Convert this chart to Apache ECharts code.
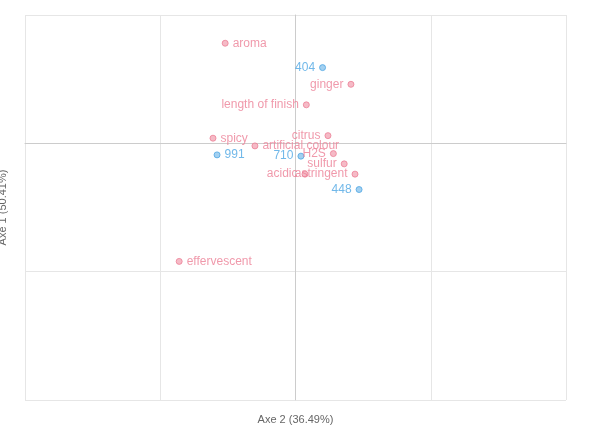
<!DOCTYPE html>
<html><head><meta charset="utf-8">
<script src="https://cdn.jsdelivr.net/npm/echarts@6/dist/echarts.min.js"></script>
<style>html,body{margin:0;padding:0;background:#fff}#c{width:596px;height:426px}</style>
</head><body><div id="c"></div>
<script>
const varNames = ['aroma','ginger','length of finish','citrus','spicy','artificial colour','H2S','sulfur','astringent','acidic','effervescent'];
const varX = [-0.52,0.41,0.08,0.24,-0.61,-0.30,0.28,0.36,0.44,0.07,-0.86];
const varY = [0.78,0.46,0.30,0.06,0.04,-0.02,-0.08,-0.16,-0.24,-0.24,-0.92];
const varPos = ['right','left','left','left','right','right','left','left','left','left','right'];
const indNames = ['404','991','710','448'];
const indX = [0.20,-0.58,0.04,0.47];
const indY = [0.59,-0.09,-0.10,-0.36];
const indPos = ['left','right','left','left'];

const pink = '#ec7f96', blue = '#4ea6e3';
function mk(names, xs, ys, pos){return names.map((n,i)=>({name:n,value:[xs[i],ys[i]],label:{position:pos[i]}}));}
const chart = echarts.init(document.getElementById('c'));
function series(data,color,fill){return {type:'scatter',data,symbolSize:6,
  itemStyle:{color:fill,borderColor:color,borderWidth:1},
  label:{show:true,formatter:p=>p.name,color:color,fontSize:12,fontFamily:'Liberation Sans, Arial',distance:4},
  emphasis:{disabled:true}};}
chart.setOption({
  animation:false,
  grid:{left:25,right:30,top:15,bottom:26,containLabel:false,outerBoundsMode:'none'},
  xAxis:{type:'value',min:-2,max:2,interval:1,name:'Axe 2 (36.49%)',nameLocation:'middle',nameGap:14,
    nameTextStyle:{color:'#666',fontSize:11},
    axisLine:{show:true,onZero:true,lineStyle:{color:'#ccc'}},axisTick:{show:false},axisLabel:{show:false},
    splitLine:{lineStyle:{color:'#e6e6e6'}}},
  yAxis:{type:'value',min:-2,max:1,interval:1,name:'Axe 1 (50.41%)',nameLocation:'middle',nameGap:17,
    nameTextStyle:{color:'#666',fontSize:11},
    axisLine:{show:true,onZero:true,lineStyle:{color:'#ccc'}},axisTick:{show:false},axisLabel:{show:false},
    splitLine:{lineStyle:{color:'#e6e6e6'}}},
  series:[series(mk(varNames,varX,varY,varPos),pink,'#f3a9b8'),series(mk(indNames,indX,indY,indPos),blue,'#8cc4ec')]
});
</script></body></html>
